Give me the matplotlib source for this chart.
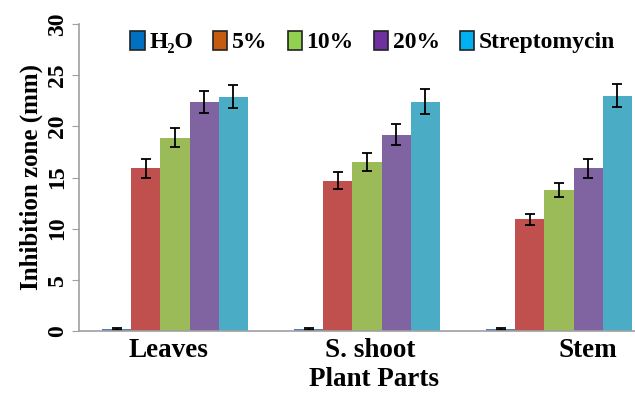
import numpy as np
import matplotlib.pyplot as plt
from matplotlib.patches import Patch

plt.rcParams['font.family'] = ['Liberation Serif', 'DejaVu Serif']
plt.rcParams['font.weight'] = 'bold'
plt.rcParams['axes.labelweight'] = 'bold'

parts = ["Leaves", "S. shoot", "Stem"]
treatments = ["H₂O", "5%", "10%", "20%", "Streptomycin"]

h2o = [0.2, 0.2, 0.2]
pct5 = [15.9, 14.7, 10.9]
pct10 = [18.9, 16.5, 13.8]
pct20 = [22.4, 19.2, 15.9]
strep = [22.9, 22.4, 23.0]

h2o_err = [0.1, 0.1, 0.1]
pct5_err = [0.9, 0.8, 0.5]
pct10_err = [0.9, 0.9, 0.7]
pct20_err = [1.1, 1.0, 0.9]
strep_err = [1.1, 1.2, 1.1]

values = [h2o, pct5, pct10, pct20, strep]
errors = [h2o_err, pct5_err, pct10_err, pct20_err, strep_err]
bar_colors = ['#4F81BD', '#C0504D', '#9BBB59', '#8064A2', '#4BACC6']
legend_colors = ['#0070C0', '#C55A11', '#92D050', '#7030A0', '#00B0F0']

fig = plt.figure(figsize=(6.35, 3.94), dpi=100)
ax = fig.add_axes([79/635, 63/394, 1 - 79/635, (331-24)/394])

x = np.arange(len(parts))
w = 0.152
for i in range(5):
    ax.bar(x + (i - 2) * w, values[i], w, color=bar_colors[i],
           yerr=errors[i], capsize=3.5,
           error_kw=dict(ecolor='black', elinewidth=1.3, capthick=1.3))

ax.set_xlim(-0.5, 2.396)
ax.set_ylim(0, 30)
ax.set_yticks(range(0, 31, 5))
ax.set_yticklabels([str(v) for v in range(0, 31, 5)], rotation=90, va='center', fontsize=17)
ax.set_xticks([-0.036, 1.016, 2.15])
ax.set_xticklabels(parts, fontsize=19.5)
ax.tick_params(axis='x', length=0, pad=5)
ax.tick_params(axis='y', length=5, color='#A0A0A0', pad=3)

for s in ['top', 'right']:
    ax.spines[s].set_visible(False)
for s in ['left', 'bottom']:
    ax.spines[s].set_color('#A0A0A0')
    ax.spines[s].set_linewidth(1.2)

ax.set_ylabel("Inhibition zone (mm)", fontsize=18, labelpad=3)
fig.text(374/635, 1 - 379/394, "Plant Parts", fontsize=19.5, ha='center', va='center')

handles = [Patch(facecolor=c, edgecolor='#222222', linewidth=1.2) for c in legend_colors]
fig.legend(handles, treatments, loc='center left', bbox_to_anchor=(121/635, 1 - 42/394),
           ncol=5, frameon=False, fontsize=17, handlelength=0.6, handleheight=0.9,
           handletextpad=0.2, columnspacing=0.85, borderaxespad=0)

fig.savefig('out.png', dpi=100)
